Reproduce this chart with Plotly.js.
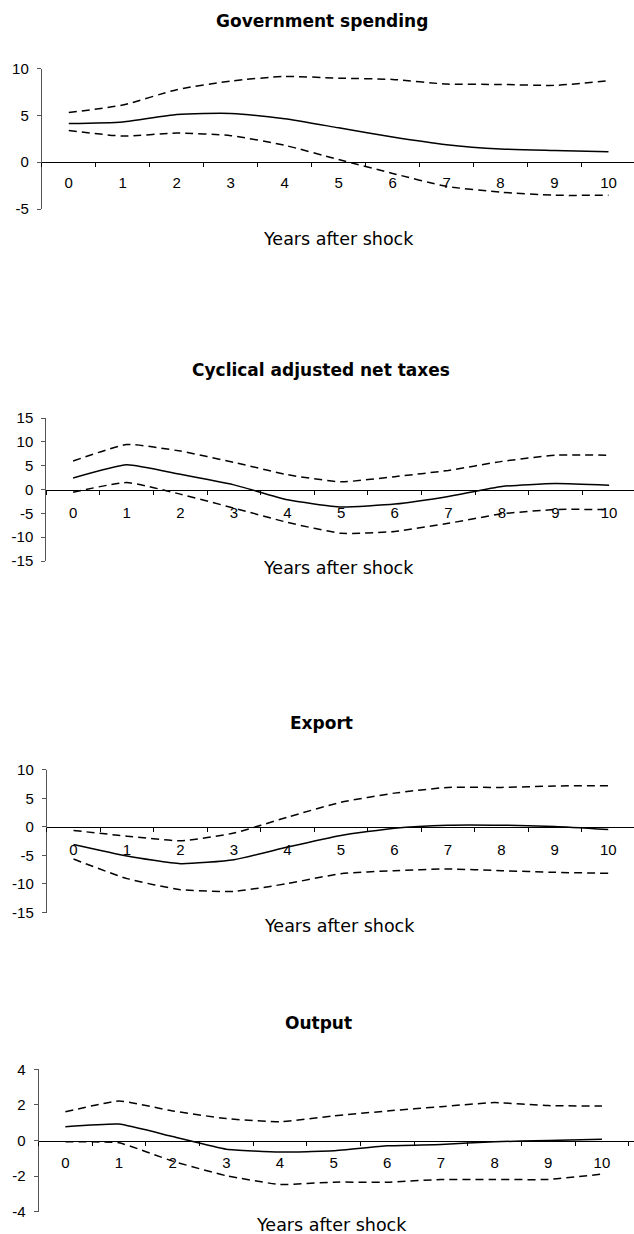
<!DOCTYPE html>
<html>
<head>
<meta charset="utf-8">
<script src="https://cdn.plot.ly/plotly-3.0.1.min.js"></script>
<style>html,body{margin:0;padding:0;background:#fff;}#chart{width:634px;height:1234px;}</style>
</head>
<body>
<div id="chart"></div>
<script>
// ---- data ----
const years = ['0','1','2','3','4','5','6','7','8','9','10'];

const panelTitles = ['Government spending', 'Cyclical adjusted net taxes', 'Export', 'Output'];
const xAxisTitle = 'Years after shock';

const govMid   = [4.13, 4.3, 5.09, 5.2, 4.63, 3.67, 2.69, 1.87, 1.41, 1.24, 1.1];
const govUpper = [5.3, 6.1, 7.74, 8.66, 9.15, 8.97, 8.83, 8.34, 8.3, 8.2, 8.7];
const govLower = [3.39, 2.79, 3.11, 2.83, 1.8, 0.28, -1.2, -2.58, -3.2, -3.53, -3.53];

const taxMid   = [2.43, 5.2, 3.19, 0.97, -2.15, -3.68, -3.06, -1.46, 0.63, 1.25, 0.9];
const taxUpper = [5.97, 9.44, 8.06, 5.69, 3.1, 1.6, 2.7, 4.0, 5.9, 7.2, 7.2];
const taxLower = [-0.56, 1.46, -0.97, -3.9, -6.9, -9.2, -8.8, -7.1, -5.1, -4.2, -4.2];

const expMid   = [-3.08, -5.1, -6.45, -5.76, -3.55, -1.5, -0.23, 0.29, 0.29, 0.06, -0.47];
const expUpper = [-0.64, -1.63, -2.44, -1.1, 1.69, 4.3, 5.9, 6.9, 6.9, 7.15, 7.2];
const expLower = [-5.64, -9.07, -11.0, -11.3, -9.94, -8.2, -7.67, -7.38, -7.67, -7.97, -8.14];

const outMid   = [0.77, 0.92, 0.22, -0.49, -0.65, -0.58, -0.3, -0.22, -0.07, 0, 0.07];
const outUpper = [1.61, 2.22, 1.66, 1.23, 1.05, 1.38, 1.66, 1.9, 2.13, 1.96, 1.94];
const outLower = [-0.07, -0.13, -1.16, -1.98, -2.47, -2.34, -2.34, -2.19, -2.19, -2.19, -1.89];

const yTicks1 = [-5, 0, 5, 10];
const yTicks2 = [-15, -10, -5, 0, 5, 10, 15];
const yTicks3 = [-15, -10, -5, 0, 5, 10];
const yTicks4 = [-4, -2, 0, 2, 4];
const yLabels1 = ['-5', '0', '5', '10'];
const yLabels2 = ['-15', '-10', '-5', '0', '5', '10', '15'];
const yLabels3 = ['-15', '-10', '-5', '0', '5', '10'];
const yLabels4 = ['-4', '-2', '0', '2', '4'];

// ---- layout geometry (pixels) ----
const W = 634, H = 1234;
const fx = px => px / W;
const fy = px => 1 - px / H;

const panels = [
  {series: [govMid, govUpper, govLower], yr: [-5, 10], tv: yTicks1, tt: yLabels1, smooth: 0.6,
   left: 41.8, step: 53.97, top: 68.5, bottom: 209, titleY: 20.5, titleX: 322, xtY: 238.5, xtX: 338, standoff: 7},
  {series: [taxMid, taxUpper, taxLower], yr: [-15, 15], tv: yTicks2, tt: yLabels2, smooth: 0.45,
   left: 46.3, step: 53.6, top: 418, bottom: 561, titleY: 370, titleX: 321, xtY: 568.3, xtX: 338.6, standoff: 9},
  {series: [expMid, expUpper, expLower], yr: [-15, 10], tv: yTicks3, tt: yLabels3, smooth: 0.5,
   left: 46.8, step: 53.47, top: 769.7, bottom: 912.5, titleY: 722.7, titleX: 322, xtY: 925.7, xtX: 339.7, standoff: 9},
  {series: [outMid, outUpper, outLower], yr: [-4, 4], tv: yTicks4, tt: yLabels4, smooth: 0.4,
   left: 38.5, step: 53.66, top: 1069.3, bottom: 1211.7, titleY: 1022.7, titleX: 318.4, xtY: 1225, xtX: 331.6, standoff: 8}
];

const tickFont = {family: 'Liberation Sans', size: 15, color: '#000'};
const traces = [];
const layout = {
  width: W, height: H,
  margin: {l: 0, r: 0, t: 0, b: 0},
  paper_bgcolor: '#fff', plot_bgcolor: 'rgba(0,0,0,0)',
  showlegend: false,
  annotations: []
};

panels.forEach((p, i) => {
  const n = i + 1;
  const xn = n === 1 ? 'x' : 'x' + n;
  const yn = n === 1 ? 'y' : 'y' + n;
  const xk = n === 1 ? 'xaxis' : 'xaxis' + n;
  const yk = n === 1 ? 'yaxis' : 'yaxis' + n;

  p.series.forEach((vals, k) => {
    traces.push({
      x: years, y: vals, xaxis: xn, yaxis: yn, type: 'scatter', mode: 'lines',
      line: {color: '#000', width: 1.5, shape: 'spline', smoothing: p.smooth, dash: k === 0 ? 'solid' : '8px,5px'},
      hoverinfo: 'skip'
    });
  });

  const [lo, hi] = p.yr;
  const zeroPx = p.top + (hi - 0) / (hi - lo) * (p.bottom - p.top);
  const rightEnd = -0.5 + (W - p.left) / p.step;

  layout[xk] = {
    type: 'category', domain: [fx(p.left), 1], range: [-0.5, rightEnd],
    anchor: 'free', position: fy(zeroPx),
    showline: true, linecolor: '#000', linewidth: 1,
    ticks: 'outside', ticklen: 4, tickwidth: 1, tickcolor: '#000', tickson: 'boundaries',
    showgrid: false, zeroline: false, tickfont: tickFont, ticklabelstandoff: p.standoff,
    fixedrange: true
  };
  layout[yk] = {
    domain: [fy(p.bottom), fy(p.top)], range: [lo, hi], anchor: xn,
    tickmode: 'array', tickvals: p.tv, ticktext: p.tt,
    showline: true, linecolor: '#555', linewidth: 1,
    ticks: 'outside', ticklen: 4, tickwidth: 1, tickcolor: '#555',
    showgrid: false, zeroline: false, tickfont: tickFont, ticklabelstandoff: 5,
    fixedrange: true
  };

  layout.annotations.push({
    xref: 'paper', yref: 'paper', x: fx(p.titleX), y: fy(p.titleY),
    xanchor: 'center', yanchor: 'middle', showarrow: false,
    text: '<b>' + panelTitles[i] + '</b>',
    font: {family: 'DejaVu Sans', size: 17, color: '#000'}
  });
  layout.annotations.push({
    xref: 'paper', yref: 'paper', x: fx(p.xtX), y: fy(p.xtY),
    xanchor: 'center', yanchor: 'middle', showarrow: false,
    text: xAxisTitle,
    font: {family: 'DejaVu Sans', size: 17.5, color: '#000'}
  });
});

Plotly.newPlot('chart', traces, layout, {staticPlot: true, displayModeBar: false});
</script>
</body>
</html>
